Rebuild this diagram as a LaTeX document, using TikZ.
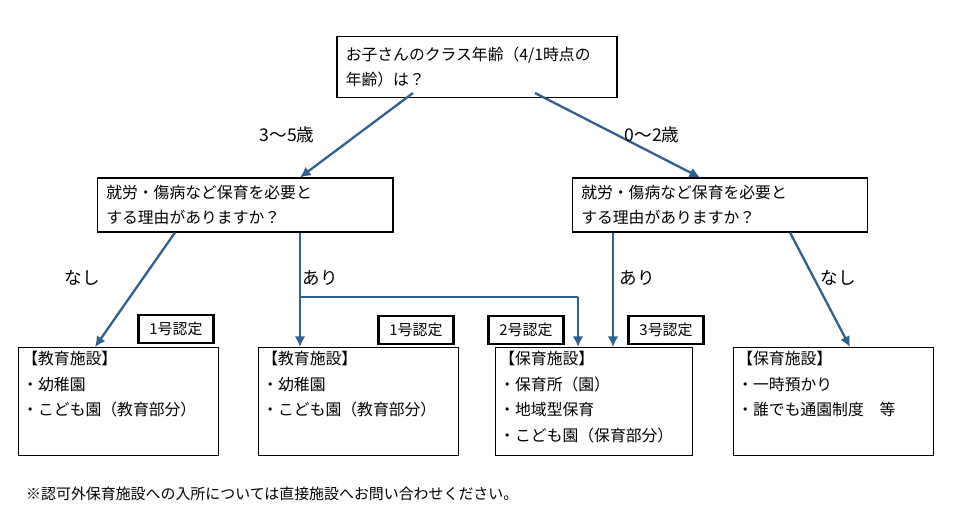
\documentclass[tikz,border=0pt]{standalone}
\usepackage{fontspec}
\setmainfont{Noto Sans CJK JP}
\usetikzlibrary{arrows.meta}
\definecolor{arr}{HTML}{2E6090}
\begin{document}
\begin{tikzpicture}[x=0.02cm,y=-0.02cm,
  box/.style={draw=black,line width=0.6pt,font=\fontsize{9}{14}\selectfont,inner xsep=5pt},
  frame/.style={draw=black,line width=0.6pt,anchor=north west,inner sep=0pt},
  txt/.style={anchor=north west,align=left,inner sep=0pt,font=\fontsize{9}{14.5}\selectfont},
  lbl/.style={font=\fontsize{10}{12}\selectfont},
  tag/.style={draw=black,line width=1.2pt,minimum width=1.5cm,minimum height=0.56cm,inner sep=0pt,font=\fontsize{8.5}{11}\selectfont},
  con/.style={draw=arr,line width=1.3pt,-{Latex[length=6pt,width=6pt]}},
  lin/.style={draw=arr,line width=1.3pt}]
\useasboundingbox (0,0) rectangle (970,516);
\node[box,minimum width=5.6cm,minimum height=1.22cm,text width=5.25cm,align=left] (top) at (477,67) {お子さんのクラス年齢（4/1時点の\\年齢）は？};
\node[box,minimum width=5.92cm,minimum height=1.08cm,text width=5.55cm,align=left] (ql) at (245,205) {就労・傷病など保育を必要と\\する理由がありますか？};
\node[box,minimum width=5.9cm,minimum height=1.08cm,text width=5.55cm,align=left] (qr) at (720,205) {就労・傷病など保育を必要と\\する理由がありますか？};
\node[frame,minimum width=4cm,minimum height=2.16cm] (b1) at (18,347) {};
\node[frame,minimum width=4cm,minimum height=2.16cm] (b2) at (258,347) {};
\node[frame,minimum width=3.94cm,minimum height=2.16cm] (b3) at (495,347) {};
\node[frame,minimum width=4cm,minimum height=2.16cm] (b4) at (733,347) {};
\node[txt] (x1) at (22,351) {【教育施設】\\・幼稚園\\・こども園（教育部分）};
\node[txt] (x2) at (262,351) {【教育施設】\\・幼稚園\\・こども園（教育部分）};
\node[txt] (x3) at (499,351) {【保育施設】\\・保育所（園）\\・地域型保育\\・こども園（保育部分）};
\node[txt] (x4) at (737,351) {【保育施設】\\・一時預かり\\・誰でも通園制度\quad 等};
\node[tag] (t1) at (176,329) {1号認定};
\node[tag] (t2) at (416,330) {1号認定};
\node[tag] (t3) at (526,330) {2号認定};
\node[tag] (t4) at (666,330) {3号認定};
\coordinate (s1) at (413,93);
\coordinate (s2) at (535,93);
\draw[con] (s1) -- (300,0 |- ql.north);
\draw[con] (s2) -- (700,0 |- qr.north);
\node[lbl] (l1) at (287,135) {3〜5歳};
\node[lbl] (l2) at (652,135) {0〜2歳};
\draw[con] (175,0 |- ql.south) -- (95,0 |- b1.north);
\draw[con] (300,0 |- ql.south) -- (300,0 |- b2.north);
\coordinate (j1) at (300,297);
\coordinate (j2) at (578,297);
\draw[lin] (j1) -- (j2);
\draw[con] (j2) -- (578,0 |- b3.north);
\draw[con] (613,0 |- qr.south) -- (613,0 |- b3.north);
\draw[con] (790,0 |- qr.south) -- (850,0 |- b4.north);
\node[lbl] (n1) at (82,278) {なし};
\node[lbl] (a1) at (320,278) {あり};
\node[lbl] (a2) at (637,278) {あり};
\node[lbl] (n2) at (838,278) {なし};
\node[font=\fontsize{8.5}{10}\selectfont,anchor=west] (fn) at (20,494) {※認可外保育施設への入所については直接施設へお問い合わせください。};
\end{tikzpicture}
\end{document}
